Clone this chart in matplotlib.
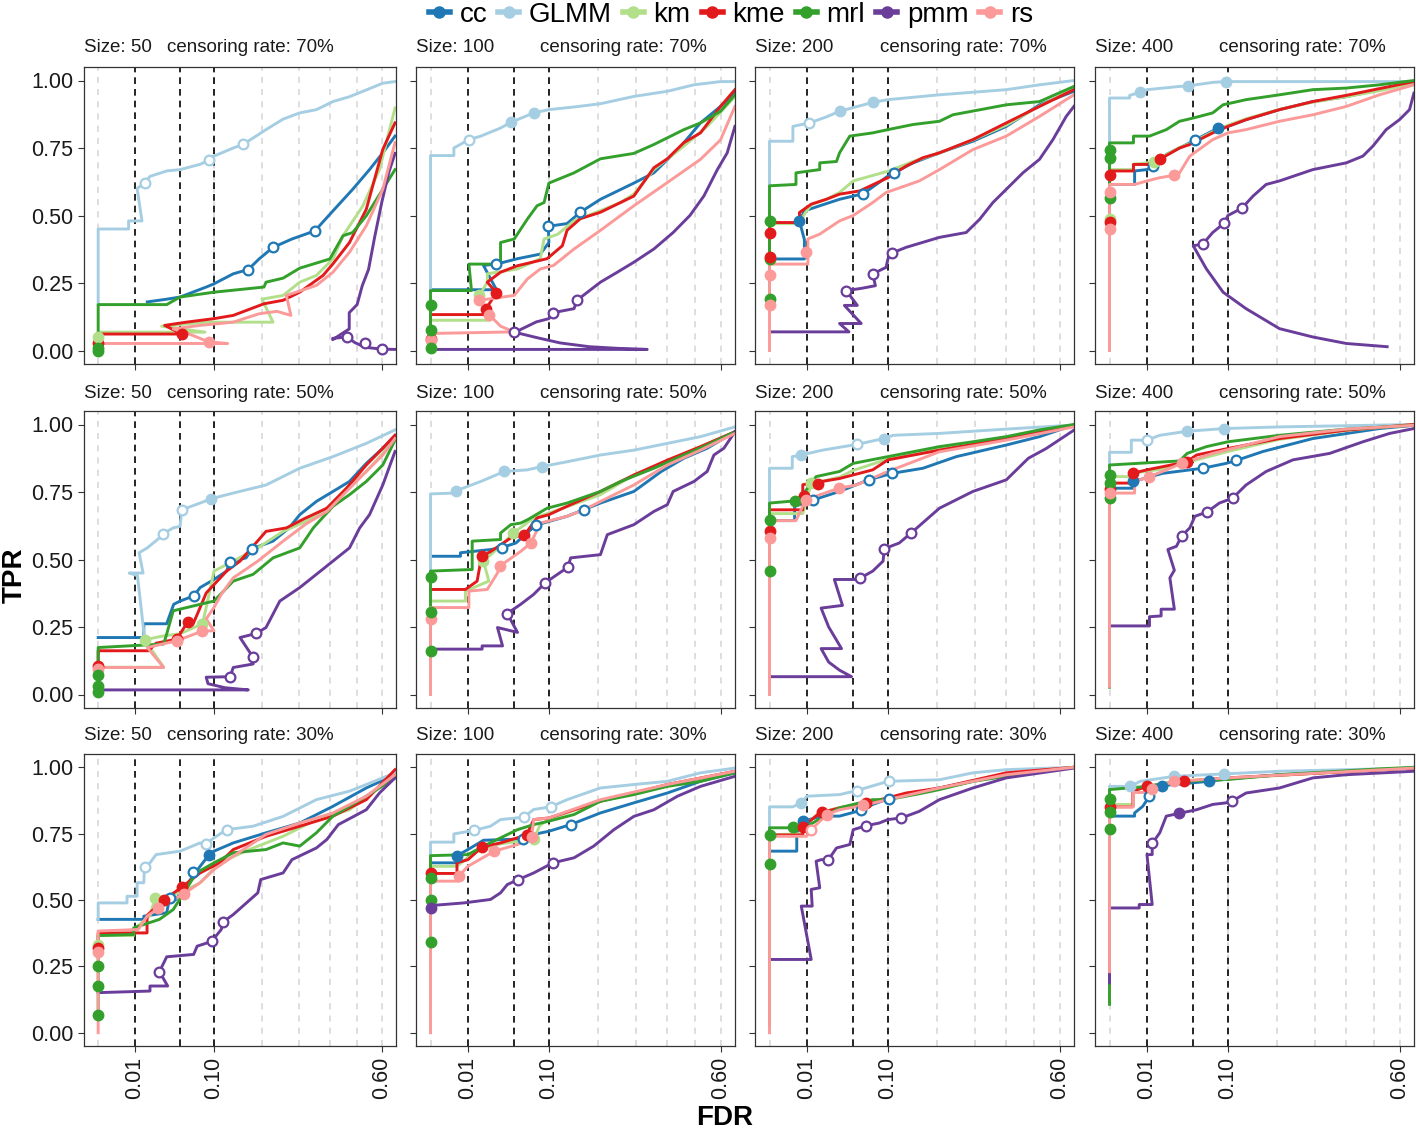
import numpy as np
import matplotlib
matplotlib.use('Agg')
import matplotlib.pyplot as plt
from matplotlib.lines import Line2D

plt.rcParams['font.family'] = ['Liberation Sans', 'DejaVu Sans']

methods = ['cc', 'GLMM', 'km', 'kme', 'mrl', 'pmm', 'rs']
colors = {'cc': '#1F78B4', 'GLMM': '#A6CEE3', 'km': '#B2DF8A', 'kme': '#E31A1C',
          'mrl': '#33A02C', 'pmm': '#6A3D9A', 'rs': '#FB9A99'}
sizes = [50, 100, 200, 400]
cens_rates = [70, 50, 30]
x_breaks = [0.01, 0.10, 0.60]
y_breaks = [0.0, 0.25, 0.5, 0.75, 1.0]
fdr_targets = [0.01, 0.05, 0.10]
fdr_grid = [0.0, 0.1, 0.2, 0.3, 0.4, 0.5, 0.6]

# ---- censoring 70% ----
curves_n50_c70 = {
    'cc': [(0.018, 0.18), (0.035, 0.19), (0.05, 0.198), (0.087, 0.235), (0.1, 0.247), (0.136, 0.284), (0.168, 0.30), (0.193, 0.339), (0.228, 0.382), (0.28, 0.413), (0.35, 0.443), (0.411, 0.517), (0.483, 0.597), (0.549, 0.67), (0.604, 0.732), (0.657, 0.794)],
    'GLMM': [(0, 0.17), (0, 0.45), (0.0069, 0.45), (0.0069, 0.48), (0.0143, 0.48), (0.0113, 0.60), (0.016, 0.62), (0.02, 0.645), (0.035, 0.665), (0.05, 0.67), (0.078, 0.69), (0.091, 0.705), (0.1, 0.72), (0.136, 0.75), (0.156, 0.763), (0.179, 0.787), (0.21, 0.818), (0.255, 0.857), (0.303, 0.88), (0.355, 0.892), (0.411, 0.922), (0.471, 0.94), (0.536, 0.965), (0.604, 0.99), (0.657, 0.996)],
    'km': [(0, 0.05), (0, 0.068), (0.085, 0.068), (0.03, 0.09), (0.087, 0.105), (0.228, 0.105), (0.2, 0.19), (0.255, 0.204), (0.303, 0.253), (0.355, 0.278), (0.411, 0.339), (0.447, 0.425), (0.522, 0.535), (0.59, 0.67), (0.657, 0.898)],
    'kme': [(0, 0.026), (0, 0.061), (0.052, 0.061), (0.033, 0.093), (0.058, 0.105), (0.1, 0.118), (0.136, 0.13), (0.205, 0.173), (0.255, 0.186), (0.303, 0.216), (0.377, 0.278), (0.411, 0.321), (0.471, 0.40), (0.536, 0.523), (0.604, 0.745), (0.657, 0.843)],
    'mrl': [(0, 0), (0, 0.17), (0.035, 0.17), (0.05, 0.198), (0.1, 0.216), (0.205, 0.235), (0.21, 0.253), (0.255, 0.268), (0.303, 0.305), (0.4, 0.339), (0.447, 0.425), (0.483, 0.437), (0.536, 0.499), (0.604, 0.597), (0.657, 0.67)],
    'pmm': [(0.657, 0.004), (0.6, 0.005), (0.53, 0.012), (0.49, 0.03), (0.463, 0.05), (0.41, 0.045), (0.41, 0.04), (0.47, 0.08), (0.47, 0.14), (0.5, 0.17), (0.52, 0.24), (0.545, 0.3), (0.57, 0.42), (0.6, 0.55), (0.63, 0.66), (0.657, 0.73)],
    'rs': [(0, 0.026), (0.125, 0.026), (0.091, 0.032), (0.06, 0.063), (0.042, 0.08), (0.0775, 0.093), (0.136, 0.105), (0.193, 0.136), (0.238, 0.145), (0.277, 0.13), (0.264, 0.204), (0.355, 0.241), (0.411, 0.29), (0.471, 0.364), (0.536, 0.462), (0.604, 0.597), (0.657, 0.77)],
}
marks_n50_c70 = [('GLMM', 0.016, 0.62, 0), ('GLMM', 0.091, 0.707, 0), ('GLMM', 0.156, 0.763, 0),
                 ('cc', 0.168, 0.30, 0), ('cc', 0.228, 0.382, 0), ('cc', 0.35, 0.443, 0),
                 ('pmm', 0.463, 0.05, 0), ('pmm', 0.53, 0.026, 0), ('pmm', 0.6, 0.005, 0),
                 ('kme', 0.052, 0.061, 1), ('kme', 0, 0.026, 1), ('rs', 0.091, 0.032, 1),
                 ('km', 0, 0.05, 1), ('mrl', 0, 0.01, 1), ('mrl', 0, 0.0, 1)]

curves_n100_c70 = {
    'cc': [(0, 0.225), (0.031, 0.225), (0.02, 0.315), (0.031, 0.32), (0.054, 0.34), (0.086, 0.357), (0.1, 0.40), (0.099, 0.46), (0.133, 0.47), (0.16, 0.512), (0.206, 0.56), (0.295, 0.62), (0.356, 0.658), (0.446, 0.755), (0.52, 0.843), (0.6, 0.904), (0.661, 0.953)],
    'GLMM': [(0, 0.228), (0, 0.722), (0.0039, 0.722), (0.0039, 0.75), (0.0105, 0.781), (0.018, 0.794), (0.035, 0.824), (0.046, 0.845), (0.076, 0.88), (0.1, 0.892), (0.147, 0.902), (0.206, 0.914), (0.295, 0.941), (0.4, 0.96), (0.495, 0.984), (0.6, 0.996), (0.661, 0.996)],
    'km': [(0, 0.112), (0.025, 0.112), (0.017, 0.204), (0.023, 0.253), (0.023, 0.284), (0.054, 0.302), (0.086, 0.34), (0.092, 0.413), (0.115, 0.43), (0.147, 0.48), (0.206, 0.518), (0.258, 0.548), (0.295, 0.58), (0.356, 0.67), (0.458, 0.757), (0.546, 0.83), (0.661, 0.94)],
    'kme': [(0, 0.044), (0, 0.133), (0.022, 0.133), (0.022, 0.155), (0.031, 0.214), (0.023, 0.253), (0.035, 0.29), (0.054, 0.314), (0.097, 0.34), (0.124, 0.388), (0.133, 0.445), (0.16, 0.488), (0.206, 0.512), (0.295, 0.572), (0.356, 0.677), (0.4, 0.71), (0.458, 0.77), (0.52, 0.806), (0.6, 0.904), (0.661, 0.966)],
    'mrl': [(0, 0.0), (0, 0.222), (0.012, 0.222), (0.0105, 0.32), (0.035, 0.32), (0.035, 0.40), (0.05, 0.413), (0.067, 0.487), (0.081, 0.536), (0.092, 0.548), (0.1, 0.62), (0.147, 0.658), (0.206, 0.71), (0.295, 0.73), (0.356, 0.763), (0.458, 0.818), (0.52, 0.843), (0.6, 0.886), (0.661, 0.947)],
    'pmm': [(0, 0.004), (0.335, 0.004), (0.25, 0.008), (0.18, 0.014), (0.12, 0.028), (0.08, 0.048), (0.05, 0.068), (0.056, 0.075), (0.08, 0.106), (0.1, 0.118), (0.107, 0.14), (0.147, 0.155), (0.153, 0.186), (0.206, 0.253), (0.249, 0.29), (0.295, 0.327), (0.356, 0.376), (0.42, 0.437), (0.48, 0.5), (0.533, 0.572), (0.587, 0.67), (0.628, 0.732), (0.661, 0.83)],
    'rs': [(0, 0.04), (0, 0.063), (0.05, 0.069), (0.035, 0.09), (0.0245, 0.133), (0.017, 0.186), (0.05, 0.204), (0.067, 0.265), (0.086, 0.302), (0.108, 0.315), (0.147, 0.376), (0.206, 0.445), (0.295, 0.536), (0.4, 0.622), (0.52, 0.708), (0.6, 0.78), (0.661, 0.904)],
}
marks_n100_c70 = [('GLMM', 0.0105, 0.781, 0), ('GLMM', 0.046, 0.845, 1), ('GLMM', 0.076, 0.88, 1),
                  ('cc', 0.031, 0.32, 0), ('cc', 0.099, 0.46, 0), ('cc', 0.16, 0.512, 0),
                  ('km', 0.017, 0.204, 1), ('kme', 0.031, 0.214, 1), ('kme', 0.022, 0.155, 1), ('kme', 0, 0.044, 1),
                  ('rs', 0.0245, 0.133, 1), ('rs', 0.017, 0.186, 1), ('rs', 0, 0.04, 1),
                  ('mrl', 0, 0.17, 1), ('mrl', 0, 0.075, 1), ('mrl', 0, 0.01, 1),
                  ('pmm', 0.05, 0.069, 0), ('pmm', 0.107, 0.14, 0), ('pmm', 0.153, 0.186, 0)]

curves_n200_c70 = {
    'cc': [(0, 0.339), (0.0087, 0.339), (0.0087, 0.41), (0.0064, 0.48), (0.0087, 0.517), (0.018, 0.536), (0.035, 0.56), (0.063, 0.581), (0.1, 0.646), (0.11, 0.658), (0.147, 0.695), (0.206, 0.732), (0.295, 0.775), (0.4, 0.83), (0.52, 0.91), (0.661, 0.96)],
    'GLMM': [(0, 0.61), (0, 0.775), (0.0039, 0.775), (0.0039, 0.83), (0.0114, 0.843), (0.023, 0.865), (0.035, 0.886), (0.076, 0.919), (0.1, 0.929), (0.206, 0.947), (0.4, 0.966), (0.52, 0.984), (0.661, 1.0)],
    'km': [(0, 0.47), (0.0064, 0.47), (0.0087, 0.505), (0.0124, 0.54), (0.023, 0.56), (0.035, 0.585), (0.05, 0.628), (0.1, 0.664), (0.147, 0.70), (0.206, 0.732), (0.295, 0.78), (0.4, 0.835), (0.52, 0.905), (0.661, 0.97)],
    'kme': [(0, 0.348), (0, 0.474), (0.0064, 0.474), (0.0064, 0.511), (0.0124, 0.542), (0.023, 0.56), (0.035, 0.579), (0.058, 0.591), (0.1, 0.64), (0.133, 0.683), (0.168, 0.714), (0.206, 0.732), (0.295, 0.781), (0.4, 0.843), (0.52, 0.904), (0.661, 0.966)],
    'mrl': [(0, 0.19), (0, 0.61), (0.005, 0.615), (0.005, 0.658), (0.018, 0.67), (0.018, 0.695), (0.032, 0.70), (0.035, 0.732), (0.046, 0.794), (0.076, 0.806), (0.1, 0.818), (0.147, 0.837), (0.206, 0.849), (0.24, 0.873), (0.4, 0.91), (0.52, 0.922), (0.661, 0.978)],
    'pmm': [(0, 0.069), (0.045, 0.069), (0.035, 0.10), (0.06, 0.10), (0.04, 0.167), (0.055, 0.167), (0.042, 0.222), (0.06, 0.23), (0.08, 0.24), (0.076, 0.284), (0.097, 0.308), (0.1, 0.339), (0.107, 0.361), (0.133, 0.382), (0.206, 0.419), (0.276, 0.437), (0.315, 0.486), (0.356, 0.548), (0.4, 0.597), (0.458, 0.658), (0.52, 0.708), (0.573, 0.781), (0.628, 0.867), (0.661, 0.904)],
    'rs': [(0, 0.0), (0, 0.32), (0.0105, 0.32), (0.0105, 0.413), (0.018, 0.431), (0.035, 0.48), (0.05, 0.5), (0.076, 0.548), (0.097, 0.585), (0.16, 0.628), (0.206, 0.67), (0.295, 0.744), (0.4, 0.794), (0.52, 0.867), (0.661, 0.947)],
}
marks_n200_c70 = [('GLMM', 0.0114, 0.843, 0), ('GLMM', 0.035, 0.886, 1), ('GLMM', 0.076, 0.919, 1),
                  ('cc', 0.0064, 0.48, 1), ('cc', 0.063, 0.581, 0), ('cc', 0.11, 0.658, 0),
                  ('mrl', 0, 0.48, 1), ('mrl', 0, 0.339, 1), ('mrl', 0, 0.192, 1),
                  ('kme', 0, 0.437, 1), ('kme', 0, 0.348, 1),
                  ('rs', 0, 0.28, 1), ('rs', 0, 0.167, 1), ('rs', 0.0093, 0.364, 1),
                  ('pmm', 0.042, 0.222, 0), ('pmm', 0.076, 0.284, 0), ('pmm', 0.107, 0.361, 0)]

curves_n400_c70 = {
    'cc': [(0, 0.615), (0.0045, 0.615), (0.0045, 0.665), (0.01, 0.67), (0.0138, 0.683), (0.023, 0.726), (0.035, 0.75), (0.052, 0.779), (0.084, 0.824), (0.1, 0.83), (0.133, 0.855), (0.206, 0.892), (0.295, 0.922), (0.4, 0.94), (0.52, 0.966), (0.661, 0.996)],
    'GLMM': [(0, 0.62), (0, 0.935), (0.0029, 0.935), (0.0029, 0.945), (0.0067, 0.956), (0.01, 0.966), (0.035, 0.978), (0.044, 0.98), (0.076, 0.993), (0.096, 0.996), (0.661, 0.996)],
    'km': [(0, 0.486), (0, 0.67), (0.004, 0.67), (0.004, 0.69), (0.01, 0.695), (0.018, 0.712), (0.035, 0.752), (0.046, 0.766), (0.076, 0.81), (0.1, 0.834), (0.133, 0.858), (0.206, 0.893), (0.295, 0.92), (0.4, 0.94), (0.52, 0.962), (0.661, 0.99)],
    'kme': [(0, 0.477), (0, 0.665), (0.0041, 0.665), (0.0041, 0.689), (0.01, 0.689), (0.018, 0.708), (0.035, 0.75), (0.046, 0.763), (0.076, 0.806), (0.1, 0.83), (0.133, 0.855), (0.206, 0.892), (0.295, 0.922), (0.4, 0.945), (0.52, 0.97), (0.661, 0.996)],
    'mrl': [(0, 0.566), (0, 0.769), (0.0041, 0.769), (0.0041, 0.794), (0.0114, 0.794), (0.023, 0.818), (0.035, 0.849), (0.05, 0.861), (0.076, 0.88), (0.092, 0.91), (0.133, 0.929), (0.206, 0.947), (0.295, 0.966), (0.4, 0.972), (0.52, 0.984), (0.661, 1.0)],
    'pmm': [(0.55, 0.014), (0.4, 0.026), (0.295, 0.05), (0.206, 0.081), (0.133, 0.155), (0.092, 0.216), (0.067, 0.302), (0.05, 0.388), (0.062, 0.394), (0.076, 0.437), (0.094, 0.472), (0.1, 0.5), (0.125, 0.527), (0.147, 0.572), (0.175, 0.615), (0.206, 0.628), (0.295, 0.67), (0.4, 0.695), (0.458, 0.72), (0.495, 0.757), (0.546, 0.818), (0.6, 0.855), (0.642, 0.892), (0.661, 0.953)],
    'rs': [(0, 0.0), (0, 0.615), (0.0045, 0.615), (0.01, 0.628), (0.018, 0.64), (0.03, 0.649), (0.035, 0.658), (0.046, 0.72), (0.076, 0.781), (0.1, 0.806), (0.133, 0.818), (0.206, 0.849), (0.295, 0.873), (0.4, 0.904), (0.52, 0.947), (0.661, 0.984)],
}
marks_n400_c70 = [('GLMM', 0.0067, 0.956, 1), ('GLMM', 0.044, 0.98, 1), ('GLMM', 0.096, 0.996, 1),
                  ('cc', 0.0138, 0.683, 0), ('cc', 0.052, 0.779, 0), ('cc', 0.084, 0.824, 1),
                  ('km', 0.014, 0.70, 1), ('km', 0, 0.486, 1),
                  ('kme', 0.018, 0.708, 1), ('kme', 0, 0.649, 1), ('kme', 0, 0.477, 1),
                  ('mrl', 0, 0.742, 1), ('mrl', 0, 0.714, 1), ('mrl', 0, 0.566, 1),
                  ('rs', 0.03, 0.649, 1), ('rs', 0, 0.588, 1), ('rs', 0, 0.45, 1),
                  ('pmm', 0.062, 0.394, 0), ('pmm', 0.094, 0.472, 0), ('pmm', 0.125, 0.527, 0)]

# ---- censoring 50% ----
curves_n50_c50 = {
    'cc': [(0, 0.211), (0.0155, 0.211), (0.0155, 0.262), (0.035, 0.262), (0.0425, 0.334), (0.05, 0.346), (0.068, 0.365), (0.0775, 0.396), (0.1, 0.426), (0.123, 0.457), (0.129, 0.49), (0.163, 0.506), (0.177, 0.54), (0.228, 0.568), (0.272, 0.617), (0.303, 0.666), (0.355, 0.715), (0.411, 0.752), (0.471, 0.789), (0.536, 0.856), (0.604, 0.912), (0.657, 0.96)],
    'GLMM': [(0.016, 0.21), (0.0115, 0.44), (0.0072, 0.45), (0.015, 0.45), (0.0125, 0.525), (0.018, 0.543), (0.028, 0.58), (0.031, 0.595), (0.042, 0.617), (0.05, 0.623), (0.052, 0.684), (0.0775, 0.709), (0.095, 0.725), (0.136, 0.746), (0.21, 0.776), (0.303, 0.838), (0.411, 0.881), (0.536, 0.93), (0.657, 0.98)],
    'km': [(0, 0.101), (0.032, 0.101), (0.016, 0.203), (0.032, 0.217), (0.05, 0.225), (0.081, 0.262), (0.087, 0.322), (0.1, 0.457), (0.136, 0.494), (0.19, 0.543), (0.255, 0.604), (0.32, 0.64), (0.39, 0.69), (0.46, 0.764), (0.536, 0.826), (0.604, 0.893), (0.657, 0.948)],
    'kme': [(0, 0.104), (0, 0.162), (0.019, 0.162), (0.025, 0.19), (0.046, 0.205), (0.06, 0.27), (0.067, 0.26), (0.0775, 0.322), (0.087, 0.376), (0.123, 0.457), (0.15, 0.494), (0.21, 0.604), (0.264, 0.617), (0.32, 0.653), (0.39, 0.69), (0.46, 0.764), (0.536, 0.85), (0.604, 0.912), (0.657, 0.96)],
    'mrl': [(0, 0.009), (0, 0.174), (0.032, 0.187), (0.035, 0.224), (0.042, 0.31), (0.0775, 0.334), (0.1, 0.346), (0.136, 0.42), (0.179, 0.445), (0.228, 0.506), (0.303, 0.543), (0.345, 0.617), (0.411, 0.697), (0.471, 0.74), (0.536, 0.789), (0.604, 0.85), (0.657, 0.942)],
    'pmm': [(0, 0.017), (0.168, 0.017), (0.12, 0.025), (0.09, 0.04), (0.087, 0.064), (0.13, 0.066), (0.136, 0.1), (0.179, 0.113), (0.178, 0.14), (0.15, 0.211), (0.186, 0.226), (0.21, 0.248), (0.246, 0.346), (0.303, 0.396), (0.355, 0.445), (0.411, 0.494), (0.471, 0.543), (0.51, 0.617), (0.549, 0.666), (0.604, 0.776), (0.657, 0.9)],
    'rs': [(0, 0.1), (0.032, 0.1), (0.018, 0.174), (0.046, 0.199), (0.081, 0.235), (0.1, 0.236), (0.087, 0.28), (0.1, 0.322), (0.113, 0.371), (0.136, 0.432), (0.19, 0.494), (0.255, 0.568), (0.32, 0.63), (0.39, 0.678), (0.46, 0.752), (0.536, 0.826), (0.604, 0.887), (0.657, 0.948)],
}
marks_n50_c50 = [('GLMM', 0.031, 0.595, 0), ('GLMM', 0.052, 0.684, 0), ('GLMM', 0.095, 0.725, 1),
                 ('cc', 0.068, 0.365, 0), ('cc', 0.129, 0.49, 0), ('cc', 0.177, 0.54, 0),
                 ('km', 0.016, 0.203, 1), ('km', 0.081, 0.262, 1),
                 ('kme', 0.046, 0.205, 1), ('kme', 0.06, 0.27, 1), ('kme', 0, 0.104, 1),
                 ('rs', 0.081, 0.235, 1), ('rs', 0.046, 0.199, 1), ('rs', 0, 0.095, 1),
                 ('mrl', 0, 0.072, 1), ('mrl', 0, 0.03, 1), ('mrl', 0, 0.009, 1),
                 ('pmm', 0.13, 0.066, 0), ('pmm', 0.178, 0.14, 0), ('pmm', 0.186, 0.226, 0)]

curves_n100_c50 = {
    'cc': [(0, 0.512), (0.0064, 0.512), (0.0064, 0.525), (0.026, 0.537), (0.036, 0.544), (0.052, 0.561), (0.079, 0.627), (0.1, 0.641), (0.133, 0.66), (0.167, 0.684), (0.206, 0.709), (0.295, 0.752), (0.38, 0.826), (0.458, 0.875), (0.546, 0.912), (0.661, 0.973)],
    'GLMM': [(0, 0.457), (0, 0.743), (0.0039, 0.746), (0.0045, 0.754), (0.018, 0.789), (0.039, 0.826), (0.067, 0.832), (0.088, 0.844), (0.133, 0.862), (0.206, 0.887), (0.295, 0.905), (0.4, 0.93), (0.52, 0.955), (0.661, 0.991)],
    'km': [(0, 0.346), (0.0087, 0.346), (0.0087, 0.383), (0.0243, 0.42), (0.02, 0.494), (0.035, 0.55), (0.049, 0.598), (0.076, 0.654), (0.1, 0.672), (0.206, 0.74), (0.295, 0.813), (0.4, 0.862), (0.52, 0.918), (0.661, 0.973)],
    'kme': [(0, 0.389), (0.0087, 0.389), (0.0155, 0.42), (0.018, 0.494), (0.019, 0.512), (0.026, 0.53), (0.046, 0.58), (0.063, 0.591), (0.081, 0.654), (0.1, 0.666), (0.133, 0.697), (0.206, 0.752), (0.295, 0.813), (0.4, 0.868), (0.52, 0.918), (0.661, 0.973)],
    'mrl': [(0, 0.162), (0, 0.457), (0.0124, 0.463), (0.0124, 0.568), (0.035, 0.574), (0.035, 0.598), (0.046, 0.629), (0.058, 0.635), (0.067, 0.647), (0.097, 0.69), (0.133, 0.709), (0.206, 0.752), (0.258, 0.789), (0.356, 0.838), (0.458, 0.887), (0.546, 0.924), (0.661, 0.973)],
    'pmm': [(0, 0.168), (0.019, 0.168), (0.019, 0.18), (0.037, 0.18), (0.032, 0.248), (0.054, 0.23), (0.042, 0.30), (0.058, 0.334), (0.076, 0.371), (0.094, 0.414), (0.115, 0.445), (0.135, 0.472), (0.14, 0.506), (0.206, 0.518), (0.223, 0.592), (0.295, 0.629), (0.356, 0.678), (0.4, 0.703), (0.42, 0.752), (0.495, 0.789), (0.546, 0.826), (0.573, 0.887), (0.614, 0.912), (0.661, 0.973)],
    'rs': [(0, 0.0), (0, 0.322), (0.0105, 0.322), (0.0105, 0.383), (0.023, 0.389), (0.032, 0.45), (0.034, 0.475), (0.058, 0.53), (0.072, 0.561), (0.086, 0.635), (0.133, 0.66), (0.168, 0.684), (0.206, 0.715), (0.295, 0.776), (0.4, 0.85), (0.52, 0.905), (0.661, 0.967)],
}
marks_n100_c50 = [('GLMM', 0.0045, 0.754, 1), ('GLMM', 0.039, 0.826, 1), ('GLMM', 0.088, 0.844, 1),
                  ('cc', 0.036, 0.544, 0), ('cc', 0.079, 0.627, 0), ('cc', 0.167, 0.684, 0),
                  ('km', 0.02, 0.494, 1), ('km', 0.049, 0.598, 1),
                  ('kme', 0.019, 0.512, 1), ('kme', 0.063, 0.591, 1),
                  ('rs', 0.034, 0.475, 1), ('rs', 0.072, 0.561, 1), ('rs', 0, 0.281, 1),
                  ('mrl', 0, 0.435, 1), ('mrl', 0, 0.307, 1), ('mrl', 0, 0.162, 1),
                  ('pmm', 0.042, 0.30, 0), ('pmm', 0.094, 0.414, 0), ('pmm', 0.135, 0.472, 0)]

curves_n200_c50 = {
    'cc': [(0, 0.644), (0.0045, 0.644), (0.0045, 0.697), (0.0138, 0.721), (0.035, 0.752), (0.07, 0.795), (0.107, 0.819), (0.168, 0.838), (0.249, 0.881), (0.4, 0.924), (0.52, 0.955), (0.661, 0.998)],
    'GLMM': [(0, 0.641), (0, 0.838), (0.0037, 0.838), (0.0037, 0.881), (0.0072, 0.887), (0.02, 0.905), (0.054, 0.926), (0.093, 0.948), (0.109, 0.96), (0.206, 0.967), (0.4, 0.983), (0.661, 0.998)],
    'km': [(0, 0.67), (0.0079, 0.67), (0.0124, 0.78), (0.035, 0.805), (0.05, 0.83), (0.1, 0.872), (0.206, 0.91), (0.4, 0.948), (0.661, 0.998)],
    'kme': [(0, 0.604), (0, 0.684), (0.0079, 0.684), (0.0079, 0.777), (0.035, 0.80), (0.076, 0.832), (0.1, 0.869), (0.206, 0.905), (0.4, 0.948), (0.661, 0.998)],
    'mrl': [(0, 0.457), (0, 0.709), (0.0045, 0.717), (0.0079, 0.74), (0.0155, 0.807), (0.035, 0.826), (0.05, 0.856), (0.1, 0.881), (0.206, 0.918), (0.295, 0.936), (0.4, 0.955), (0.52, 0.98), (0.661, 1.0)],
    'pmm': [(0, 0.066), (0.048, 0.066), (0.035, 0.09), (0.025, 0.12), (0.019, 0.17), (0.037, 0.17), (0.025, 0.25), (0.019, 0.32), (0.038, 0.33), (0.03, 0.426), (0.052, 0.426), (0.058, 0.43), (0.076, 0.457), (0.092, 0.494), (0.094, 0.54), (0.12, 0.561), (0.143, 0.598), (0.206, 0.69), (0.295, 0.752), (0.4, 0.795), (0.478, 0.875), (0.546, 0.911), (0.661, 0.979)],
    'rs': [(0, 0.0), (0, 0.644), (0.005, 0.644), (0.0093, 0.721), (0.034, 0.764), (0.054, 0.776), (0.1, 0.826), (0.206, 0.899), (0.4, 0.942), (0.661, 0.991)],
}
marks_n200_c50 = [('GLMM', 0.0072, 0.887, 1), ('GLMM', 0.054, 0.926, 0), ('GLMM', 0.093, 0.948, 1),
                  ('cc', 0.0138, 0.721, 0), ('cc', 0.07, 0.795, 0), ('cc', 0.107, 0.819, 0),
                  ('km', 0.0124, 0.785, 1),
                  ('kme', 0, 0.604, 1), ('kme', 0.0087, 0.737, 1), ('kme', 0.017, 0.779, 1),
                  ('mrl', 0, 0.645, 1), ('mrl', 0, 0.457, 1), ('mrl', 0.0045, 0.717, 1),
                  ('rs', 0, 0.58, 1), ('rs', 0.0093, 0.721, 1), ('rs', 0.034, 0.764, 1),
                  ('pmm', 0.058, 0.43, 0), ('pmm', 0.094, 0.54, 0), ('pmm', 0.143, 0.598, 0)]

curves_n400_c50 = {
    'cc': [(0, 0.764), (0.004, 0.764), (0.004, 0.789), (0.02, 0.819), (0.062, 0.838), (0.097, 0.856), (0.115, 0.867), (0.168, 0.9), (0.295, 0.948), (0.52, 0.985), (0.661, 0.997)],
    'GLMM': [(0, 0.85), (0, 0.897), (0.0034, 0.897), (0.0034, 0.942), (0.01, 0.942), (0.018, 0.96), (0.043, 0.975), (0.094, 0.985), (0.206, 0.991), (0.661, 1.0)],
    'km': [(0, 0.807), (0.004, 0.807), (0.004, 0.82), (0.02, 0.835), (0.043, 0.86), (0.1, 0.90), (0.206, 0.945), (0.4, 0.978), (0.661, 1.0)],
    'kme': [(0, 0.783), (0.004, 0.783), (0.004, 0.82), (0.01, 0.832), (0.043, 0.862), (0.054, 0.887), (0.1, 0.911), (0.206, 0.948), (0.4, 0.979), (0.661, 1.0)],
    'mrl': [(0, 0.027), (0, 0.85), (0.035, 0.865), (0.043, 0.893), (0.067, 0.918), (0.1, 0.936), (0.206, 0.96), (0.4, 0.983), (0.661, 0.997)],
    'pmm': [(0, 0.254), (0.0114, 0.254), (0.0114, 0.288), (0.019, 0.291), (0.019, 0.316), (0.03, 0.316), (0.026, 0.432), (0.03, 0.46), (0.0243, 0.537), (0.032, 0.549), (0.037, 0.587), (0.046, 0.617), (0.052, 0.66), (0.068, 0.676), (0.086, 0.709), (0.108, 0.727), (0.133, 0.776), (0.175, 0.826), (0.24, 0.869), (0.346, 0.893), (0.458, 0.936), (0.56, 0.967), (0.661, 0.985)],
    'rs': [(0, 0.03), (0, 0.746), (0.0045, 0.746), (0.0045, 0.789), (0.0114, 0.807), (0.023, 0.832), (0.037, 0.856), (0.076, 0.893), (0.206, 0.955), (0.4, 0.983), (0.661, 0.997)],
}
marks_n400_c50 = [('GLMM', 0.01, 0.942, 0), ('GLMM', 0.043, 0.975, 1), ('GLMM', 0.094, 0.985, 1),
                  ('cc', 0.004, 0.789, 1), ('cc', 0.062, 0.838, 0), ('cc', 0.115, 0.867, 0),
                  ('kme', 0.004, 0.82, 1), ('kme', 0.043, 0.862, 1), ('kme', 0, 0.76, 1),
                  ('mrl', 0, 0.813, 1), ('mrl', 0, 0.785, 1), ('mrl', 0, 0.727, 1),
                  ('rs', 0.0114, 0.807, 1), ('rs', 0.037, 0.856, 1), ('rs', 0, 0.746, 1),
                  ('pmm', 0.037, 0.587, 0), ('pmm', 0.068, 0.676, 0), ('pmm', 0.108, 0.727, 0)]

# ---- censoring 30% ----
curves_n50_c30 = {
    'cc': [(0, 0.427), (0.0155, 0.427), (0.0155, 0.439), (0.035, 0.452), (0.038, 0.506), (0.045, 0.502), (0.067, 0.59), (0.0775, 0.627), (0.091, 0.668), (0.1, 0.684), (0.136, 0.715), (0.21, 0.753), (0.303, 0.79), (0.411, 0.853), (0.536, 0.922), (0.657, 0.972)],
    'GLMM': [(0, 0.427), (0, 0.489), (0.0062, 0.489), (0.0062, 0.514), (0.0113, 0.514), (0.0113, 0.565), (0.0155, 0.565), (0.016, 0.625), (0.02, 0.64), (0.025, 0.671), (0.05, 0.684), (0.0775, 0.715), (0.086, 0.71), (0.1, 0.734), (0.123, 0.765), (0.179, 0.778), (0.255, 0.815), (0.355, 0.878), (0.471, 0.91), (0.536, 0.935), (0.657, 0.979)],
    'km': [(0, 0.366), (0.0094, 0.366), (0.0094, 0.39), (0.02, 0.44), (0.024, 0.506), (0.05, 0.527), (0.0775, 0.565), (0.11, 0.64), (0.17, 0.69), (0.255, 0.74), (0.355, 0.803), (0.471, 0.84), (0.657, 0.966)],
    'kme': [(0, 0.32), (0, 0.376), (0.0178, 0.376), (0.0178, 0.442), (0.032, 0.5), (0.052, 0.548), (0.0775, 0.602), (0.11, 0.64), (0.136, 0.69), (0.21, 0.74), (0.303, 0.778), (0.411, 0.816), (0.536, 0.878), (0.657, 0.991)],
    'mrl': [(0, 0.065), (0, 0.366), (0.0094, 0.37), (0.0094, 0.395), (0.028, 0.427), (0.042, 0.464), (0.072, 0.602), (0.1, 0.64), (0.136, 0.678), (0.21, 0.69), (0.255, 0.715), (0.303, 0.703), (0.355, 0.753), (0.411, 0.816), (0.536, 0.891), (0.657, 0.96)],
    'pmm': [(0, 0.151), (0.02, 0.157), (0.02, 0.176), (0.036, 0.176), (0.028, 0.23), (0.035, 0.286), (0.068, 0.295), (0.073, 0.326), (0.096, 0.344), (0.113, 0.389), (0.116, 0.417), (0.136, 0.445), (0.19, 0.527), (0.197, 0.577), (0.255, 0.602), (0.28, 0.652), (0.355, 0.696), (0.39, 0.728), (0.43, 0.784), (0.536, 0.84), (0.59, 0.903), (0.657, 0.96)],
    'rs': [(0, 0.0), (0, 0.383), (0.012, 0.389), (0.018, 0.44), (0.027, 0.468), (0.055, 0.524), (0.0775, 0.565), (0.1, 0.615), (0.136, 0.665), (0.21, 0.747), (0.303, 0.79), (0.411, 0.828), (0.536, 0.891), (0.657, 0.972)],
}
marks_n50_c30 = [('GLMM', 0.016, 0.625, 0), ('GLMM', 0.086, 0.71, 0), ('GLMM', 0.123, 0.765, 0),
                 ('cc', 0.038, 0.506, 0), ('cc', 0.067, 0.605, 0), ('cc', 0.091, 0.668, 1),
                 ('km', 0.024, 0.506, 1), ('km', 0, 0.33, 1),
                 ('kme', 0.032, 0.5, 1), ('kme', 0.052, 0.548, 1), ('kme', 0, 0.32, 1),
                 ('rs', 0.027, 0.468, 1), ('rs', 0.055, 0.524, 1), ('rs', 0, 0.305, 1),
                 ('mrl', 0, 0.251, 1), ('mrl', 0, 0.176, 1), ('mrl', 0, 0.065, 1),
                 ('pmm', 0.028, 0.23, 0), ('pmm', 0.096, 0.344, 0), ('pmm', 0.116, 0.417, 0)]

curves_n100_c30 = {
    'cc': [(0, 0.64), (0.005, 0.64), (0.005, 0.667), (0.01, 0.69), (0.02, 0.725), (0.061, 0.73), (0.076, 0.747), (0.1, 0.759), (0.14, 0.784), (0.206, 0.828), (0.295, 0.866), (0.4, 0.903), (0.52, 0.947), (0.661, 0.979)],
    'GLMM': [(0, 0.627), (0, 0.718), (0.0039, 0.718), (0.0039, 0.749), (0.0134, 0.762), (0.0257, 0.778), (0.035, 0.803), (0.062, 0.812), (0.076, 0.841), (0.103, 0.851), (0.133, 0.878), (0.206, 0.922), (0.295, 0.935), (0.4, 0.947), (0.52, 0.979), (0.661, 0.997)],
    'km': [(0, 0.627), (0.005, 0.627), (0.01, 0.66), (0.019, 0.695), (0.035, 0.712), (0.076, 0.728), (0.085, 0.78), (0.1, 0.805), (0.206, 0.872), (0.4, 0.932), (0.661, 0.982)],
    'kme': [(0, 0.6), (0.005, 0.6), (0.005, 0.64), (0.01, 0.652), (0.019, 0.7), (0.035, 0.715), (0.066, 0.745), (0.076, 0.803), (0.1, 0.809), (0.206, 0.872), (0.4, 0.935), (0.661, 0.985)],
    'mrl': [(0, 0.341), (0, 0.667), (0.01, 0.671), (0.02, 0.703), (0.035, 0.734), (0.054, 0.765), (0.076, 0.784), (0.1, 0.797), (0.147, 0.822), (0.206, 0.872), (0.295, 0.897), (0.4, 0.928), (0.52, 0.947), (0.661, 0.979)],
    'pmm': [(0, 0.468), (0, 0.479), (0.0079, 0.489), (0.0257, 0.502), (0.035, 0.527), (0.042, 0.558), (0.055, 0.577), (0.076, 0.602), (0.107, 0.64), (0.147, 0.659), (0.19, 0.703), (0.24, 0.765), (0.295, 0.815), (0.356, 0.84), (0.435, 0.891), (0.52, 0.928), (0.661, 0.966)],
    'rs': [(0, 0.0), (0, 0.571), (0.0057, 0.571), (0.0057, 0.59), (0.01, 0.627), (0.029, 0.684), (0.054, 0.709), (0.073, 0.737), (0.076, 0.803), (0.1, 0.809), (0.206, 0.878), (0.4, 0.935), (0.661, 0.985)],
}
marks_n100_c30 = [('GLMM', 0.0134, 0.762, 0), ('GLMM', 0.062, 0.812, 0), ('GLMM', 0.103, 0.851, 0),
                  ('cc', 0.005, 0.667, 1), ('cc', 0.061, 0.73, 0), ('cc', 0.14, 0.784, 0),
                  ('km', 0.076, 0.728, 1),
                  ('kme', 0.019, 0.7, 1), ('kme', 0.066, 0.745, 1), ('kme', 0, 0.6, 1),
                  ('rs', 0.0057, 0.59, 1), ('rs', 0.029, 0.684, 1), ('rs', 0.073, 0.737, 1),
                  ('mrl', 0, 0.583, 1), ('mrl', 0, 0.499, 1), ('mrl', 0, 0.341, 1),
                  ('pmm', 0, 0.468, 1), ('pmm', 0.055, 0.577, 0), ('pmm', 0.107, 0.64, 0)]

curves_n200_c30 = {
    'cc': [(0, 0.684), (0.0053, 0.684), (0.0053, 0.753), (0.0079, 0.797), (0.02, 0.816), (0.035, 0.816), (0.06, 0.838), (0.076, 0.86), (0.102, 0.882), (0.206, 0.922), (0.4, 0.972), (0.661, 1.0)],
    'GLMM': [(0, 0.765), (0, 0.851), (0.0039, 0.851), (0.0072, 0.866), (0.01, 0.891), (0.035, 0.897), (0.054, 0.912), (0.1, 0.947), (0.206, 0.953), (0.295, 0.979), (0.4, 0.991), (0.661, 1.0)],
    'km': [(0, 0.745), (0.0079, 0.75), (0.0079, 0.775), (0.018, 0.83), (0.035, 0.848), (0.067, 0.868), (0.1, 0.882), (0.206, 0.92), (0.4, 0.972), (0.661, 1.0)],
    'kme': [(0, 0.745), (0.0079, 0.745), (0.0079, 0.775), (0.018, 0.828), (0.02, 0.83), (0.035, 0.847), (0.067, 0.866), (0.1, 0.885), (0.133, 0.903), (0.206, 0.922), (0.4, 0.979), (0.661, 1.0)],
    'mrl': [(0, 0.03), (0, 0.772), (0.0045, 0.772), (0.01, 0.778), (0.035, 0.847), (0.076, 0.878), (0.1, 0.878), (0.168, 0.903), (0.206, 0.916), (0.295, 0.947), (0.4, 0.966), (0.661, 1.0)],
    'pmm': [(0, 0.276), (0.0124, 0.276), (0.0072, 0.477), (0.013, 0.477), (0.0124, 0.54), (0.018, 0.546), (0.0155, 0.646), (0.019, 0.652), (0.0248, 0.652), (0.032, 0.696), (0.046, 0.709), (0.05, 0.765), (0.067, 0.78), (0.086, 0.79), (0.1, 0.803), (0.124, 0.809), (0.16, 0.834), (0.206, 0.878), (0.295, 0.922), (0.4, 0.96), (0.661, 0.997)],
    'rs': [(0, 0.0), (0, 0.74), (0.0098, 0.74), (0.0124, 0.765), (0.0235, 0.822), (0.035, 0.84), (0.062, 0.856), (0.1, 0.878), (0.206, 0.922), (0.4, 0.972), (0.661, 1.0)],
}
marks_n200_c30 = [('GLMM', 0.0072, 0.866, 1), ('GLMM', 0.054, 0.912, 0), ('GLMM', 0.102, 0.948, 0),
                  ('cc', 0.0079, 0.797, 1), ('cc', 0.06, 0.838, 0), ('cc', 0.102, 0.882, 0),
                  ('mrl', 0, 0.743, 1), ('mrl', 0, 0.637, 1), ('mrl', 0.0041, 0.774, 1),
                  ('kme', 0.0079, 0.775, 1), ('kme', 0.02, 0.83, 1), ('kme', 0.067, 0.866, 1),
                  ('rs', 0.0124, 0.765, 0), ('rs', 0.0235, 0.822, 1), ('rs', 0.062, 0.856, 1),
                  ('pmm', 0.0248, 0.652, 0), ('pmm', 0.067, 0.78, 0), ('pmm', 0.124, 0.809, 0)]

curves_n400_c30 = {
    'cc': [(0, 0.816), (0.0045, 0.816), (0.0045, 0.828), (0.0079, 0.853), (0.0114, 0.891), (0.02, 0.931), (0.07, 0.947), (0.1, 0.956), (0.206, 0.972), (0.661, 0.997)],
    'GLMM': [(0, 0.9), (0, 0.928), (0.0031, 0.928), (0.0067, 0.947), (0.03, 0.966), (0.094, 0.975), (0.206, 0.985), (0.661, 0.997)],
    'km': [(0, 0.86), (0.004, 0.86), (0.004, 0.91), (0.01, 0.928), (0.03, 0.947), (0.1, 0.958), (0.661, 0.998)],
    'kme': [(0, 0.851), (0.0039, 0.851), (0.0039, 0.91), (0.01, 0.928), (0.04, 0.947), (0.1, 0.96), (0.661, 0.997)],
    'mrl': [(0, 0.107), (0, 0.916), (0.01, 0.928), (0.035, 0.947), (0.1, 0.954), (0.206, 0.972), (0.52, 0.994), (0.661, 1.0)],
    'pmm': [(0, 0.188), (0, 0.47), (0.0063, 0.47), (0.0063, 0.483), (0.013, 0.483), (0.01, 0.671), (0.013, 0.671), (0.013, 0.713), (0.018, 0.753), (0.023, 0.816), (0.034, 0.826), (0.054, 0.84), (0.076, 0.86), (0.097, 0.866), (0.107, 0.872), (0.133, 0.903), (0.206, 0.922), (0.295, 0.96), (0.4, 0.972), (0.661, 0.985)],
    'rs': [(0, 0.23), (0, 0.851), (0.004, 0.851), (0.004, 0.905), (0.01, 0.905), (0.013, 0.92), (0.03, 0.947), (0.1, 0.96), (0.661, 0.997)],
}
marks_n400_c30 = [('GLMM', 0.0031, 0.928, 1), ('GLMM', 0.03, 0.966, 1), ('GLMM', 0.094, 0.975, 1),
                  ('cc', 0.0114, 0.891, 0), ('cc', 0.02, 0.931, 1), ('cc', 0.07, 0.947, 1),
                  ('kme', 0.01, 0.928, 1), ('kme', 0.04, 0.947, 1), ('kme', 0, 0.851, 1),
                  ('rs', 0.013, 0.92, 1), ('rs', 0.03, 0.947, 1),
                  ('mrl', 0, 0.882, 1), ('mrl', 0, 0.832, 1), ('mrl', 0, 0.768, 1),
                  ('pmm', 0.013, 0.713, 0), ('pmm', 0.034, 0.826, 1), ('pmm', 0.107, 0.872, 0)]

panels = {
    (70, 50): (curves_n50_c70, marks_n50_c70), (70, 100): (curves_n100_c70, marks_n100_c70),
    (70, 200): (curves_n200_c70, marks_n200_c70), (70, 400): (curves_n400_c70, marks_n400_c70),
    (50, 50): (curves_n50_c50, marks_n50_c50), (50, 100): (curves_n100_c50, marks_n100_c50),
    (50, 200): (curves_n200_c50, marks_n200_c50), (50, 400): (curves_n400_c50, marks_n400_c50),
    (30, 50): (curves_n50_c30, marks_n50_c30), (30, 100): (curves_n100_c30, marks_n100_c30),
    (30, 200): (curves_n200_c30, marks_n200_c30), (30, 400): (curves_n400_c30, marks_n400_c30),
}


def fwd(x):
    return np.sign(x) * np.sqrt(np.abs(x))


def inv(y):
    return np.sign(y) * y ** 2


W, H = 1416, 1131
fig = plt.figure(figsize=(W / 100, H / 100), dpi=100)

col_px = [(84, 312), (416, 319), (755, 319), (1095, 319)]
row_px = [(67, 297), (411, 297), (754, 292)]
cr_text_x = [167, 540, 880, 1219]
title_y = [48, 393, 736]

for r, cr in enumerate(cens_rates):
    for c, n in enumerate(sizes):
        left, w = col_px[c]
        top, h = row_px[r]
        ax = fig.add_axes([left / W, 1 - (top + h) / H, w / W, h / H])
        ax.set_xscale('function', functions=(fwd, inv))
        for v in fdr_grid:
            ax.axvline(v, color='#d4d4d4', lw=1.1, ls=(0, (4, 4)), zorder=0)
        for v in fdr_targets:
            ax.axvline(v, color='black', lw=1.2, ls=(0, (4, 3)), zorder=1)

        curves, marks = panels[(cr, n)]
        for m in methods:
            pts = np.array(curves[m])
            ax.plot(pts[:, 0], pts[:, 1], color=colors[m], lw=2.1, zorder=2)
        for m, fx, fy, filled in marks:
            if filled:
                ax.plot(fx, fy, 'o', ms=7.5, color=colors[m], mec=colors[m], zorder=4)
            else:
                ax.plot(fx, fy, 'o', ms=7, mfc='white', mec=colors[m], mew=1.6, zorder=4)

        ax.set_xlim(-0.0015, 0.6614)
        ax.set_ylim(-0.05, 1.05)
        ax.set_xticks(x_breaks)
        ax.set_yticks(y_breaks)
        ax.tick_params(direction='out', length=4, width=0.8, color='#333333',
                       labelsize=15.5, labelcolor='#1a1a1a')
        if r == len(cens_rates) - 1:
            ax.set_xticklabels(['%.2f' % v for v in x_breaks], rotation=90)
        else:
            ax.set_xticklabels([])
        if c == 0:
            ax.set_yticklabels(['%.2f' % v for v in y_breaks])
        else:
            ax.set_yticklabels([])
        for s in ax.spines.values():
            s.set_color('#333333')
            s.set_linewidth(0.9)

        fig.text(left / W, 1 - title_y[r] / H, 'Size: %d' % n, fontsize=13.5,
                 ha='left', va='center', color='#1a1a1a')
        fig.text(cr_text_x[c] / W, 1 - title_y[r] / H, 'censoring rate: %d%%' % cr,
                 fontsize=13.5, ha='left', va='center', color='#1a1a1a')

fig.text(15 / W, 1 - 575 / H, 'TPR', rotation=90, fontsize=20, fontweight='bold',
         ha='center', va='center')
fig.text(725 / W, 1 - 1118 / H, 'FDR', fontsize=20, fontweight='bold',
         ha='center', va='center')

handles = [Line2D([], [], color=colors[m], lw=4, marker='o', ms=8) for m in methods]
fig.legend(handles, methods, loc='center', bbox_to_anchor=(731 / W, 1 - 15 / H), ncol=7,
           frameon=False, fontsize=20, handlelength=0.75, handletextpad=0.35,
           columnspacing=0.4, borderpad=0)

fig.savefig('out.png', dpi=100)
